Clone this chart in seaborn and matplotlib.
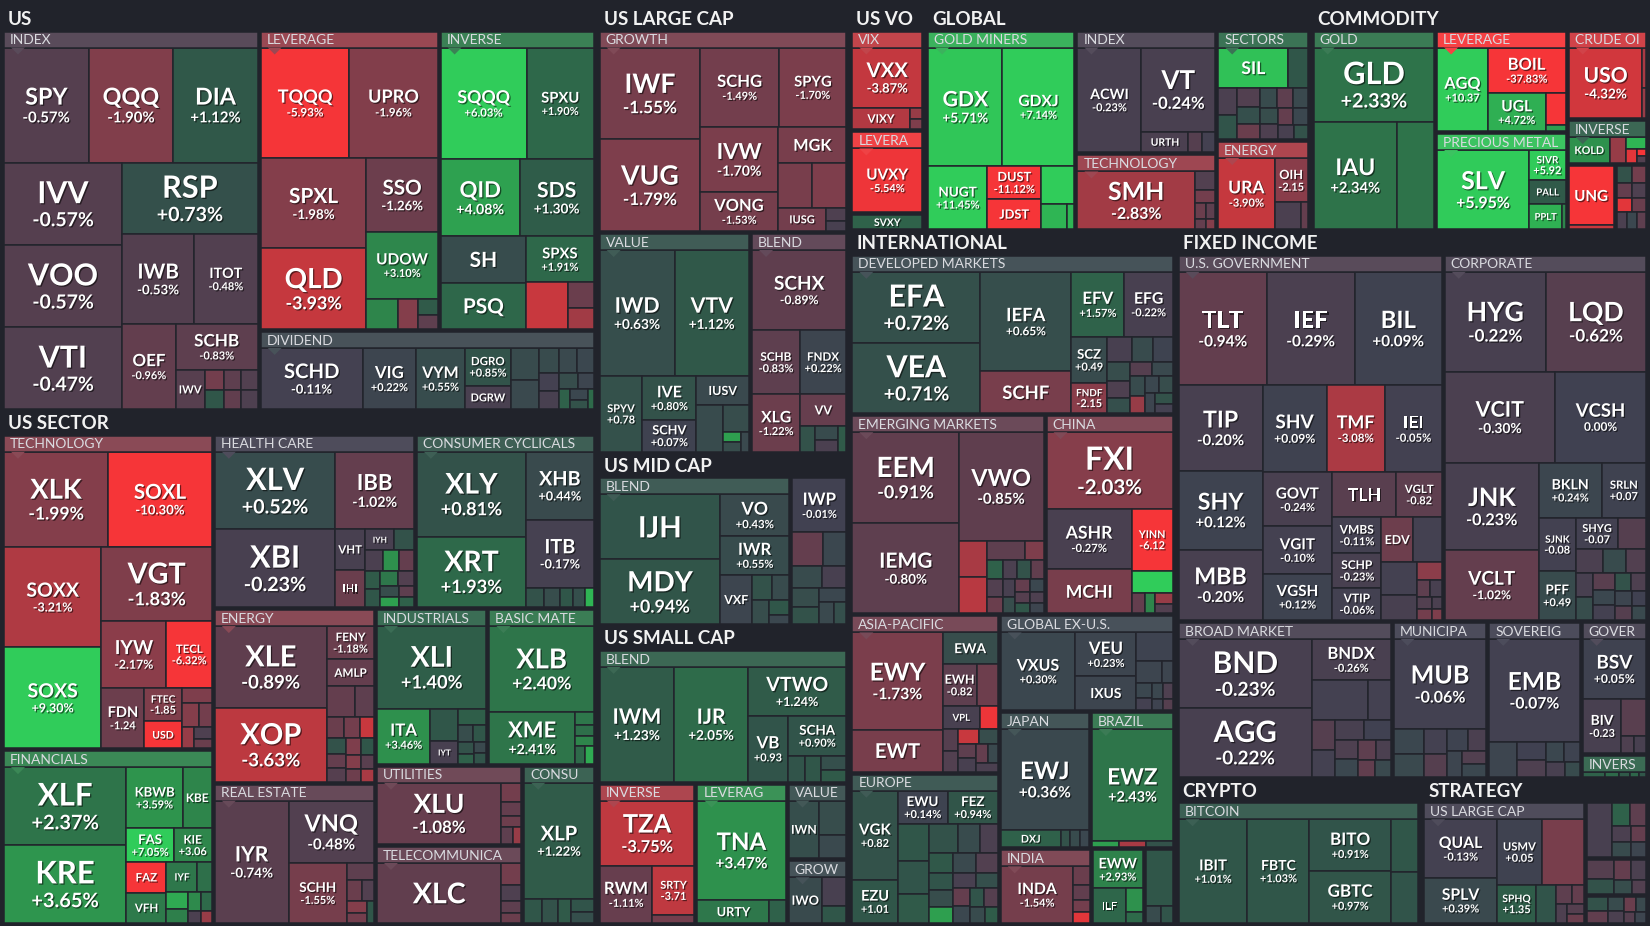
import numpy as np
import matplotlib
matplotlib.use("Agg")
import matplotlib.pyplot as plt
import matplotlib.patheffects as pe
from matplotlib.patches import Rectangle, Polygon
from matplotlib.colors import Normalize, to_rgb
import seaborn as sns

# ---- data: (ticker, size, % change) ; "" = unlabeled small tile ----
US_INDEX = [("SPY", 9360, -0.57), ("QQQ", 9350, -1.90), ("DIA", 9340, 1.12), ("IVV", 9330, -0.57),
            ("VOO", 9320, -0.57), ("VTI", 9310, -0.47), ("RSP", 9300, 0.73), ("IWB", 6200, -0.53),
            ("ITOT", 5500, -0.48), ("OEF", 4400, -0.96), ("SCHB", 3600, -0.83), ("IWV", 1100, -0.62),
            ("", 390, -1.5), ("", 360, 1.0), ("", 340, -0.8), ("", 320, -0.5), ("", 310, -0.9), ("", 300, -0.4)]
US_LEVERAGE = [("TQQQ", 9400, -5.93), ("UPRO", 9350, -1.96), ("SPXL", 9100, -1.98), ("QLD", 8130, -3.93),
               ("SSO", 4970, -1.26), ("UDOW", 4550, 3.10), ("", 900, 3.0), ("", 600, -2.0), ("", 300, 1.2), ("", 260, -0.8)]
US_INVERSE = [("SQQQ", 9140, 6.03), ("SPXU", 7140, 1.90), ("QID", 5760, 4.08), ("SDS", 5400, 1.30),
              ("SH", 3800, 0.55), ("PSQ", 3750, 1.85), ("SPXS", 2970, 1.91), ("", 1850, -4.0),
              ("", 620, -1.2), ("", 520, -2.8)]
US_DIVIDEND = [("SCHD", 7000, -0.11), ("VIG", 3640, 0.22), ("VYM", 3360, 0.55), ("DGRO", 1935, 0.85),
               ("DGRW", 1215, -0.25), ("", 1036, 0.5), ("", 924, 0.4), ("DVY", 527, 0.5), ("", 520, 0.4),
               ("", 450, 0.3), ("", 400, -0.1), ("", 390, -0.2), ("", 350, 0.6), ("", 300, 0.2),
               ("", 260, 1.5), ("", 220, 0.3), ("", 180, 0.8), ("", 120, 2.0)]

SE_TECH = [("XLK", 9400, -1.99), ("SOXL", 9380, -10.30), ("SOXX", 9360, -3.21), ("SOXS", 9340, 9.30),
           ("VGT", 7850, -1.83), ("IYW", 4100, -2.17), ("TECL", 2860, -6.32), ("FDN", 2460, -1.24),
           ("FTEC", 1220, -1.85), ("USD", 960, -7.0), ("", 450, -1.8), ("", 380, -2.0), ("", 300, -1.5),
           ("", 250, -2.5), ("", 200, -0.4), ("", 150, -1.2)]
SE_FIN = [("XLF", 9300, 2.37), ("KRE", 9280, 3.65), ("KBWB", 3360, 3.59), ("KBE", 1740, 3.0),
          ("FAS", 1550, 7.05), ("KIE", 1250, 3.06), ("FAZ", 1200, -7.0), ("VFH", 1190, 2.6),
          ("IYF", 900, 2.5), ("", 420, 2.2), ("", 350, 4.5), ("", 300, 2.8), ("", 250, 3.2),
          ("", 200, 2.0), ("", 150, -0.3), ("", 130, -2.5)]
SE_HEALTH = [("XLV", 9100, 0.52), ("XBI", 9090, -0.23), ("IBB", 5920, -1.02), ("VHT", 1170, -0.2),
             ("IHI", 1080, -1.2), ("IYH", 610, -0.2), ("", 400, 0.8), ("", 350, -0.3), ("", 320, 3.5),
             ("", 300, -1.0), ("", 280, 1.2), ("", 270, 1.0), ("", 250, 2.5), ("", 230, -0.5),
             ("", 200, 0.6), ("", 180, 4.0), ("", 170, -0.8), ("", 150, 1.5)]
SE_CONSCYC = [("XLY", 8960, 0.81), ("XRT", 7450, 1.93), ("XHB", 4450, 0.44), ("ITB", 4440, -0.17),
              ("", 330, 0.8), ("", 300, 0.6), ("", 250, 1.0), ("", 220, 0.7), ("", 170, 5.0)]
SE_ENERGY = [("XLE", 8830, -0.89), ("XOP", 7960, -3.63), ("FENY", 1500, -1.18), ("AMLP", 1220, -1.0),
             ("", 840, -1.0), ("", 560, -0.8), ("", 350, -1.2), ("", 330, -1.5), ("", 300, -4.0),
             ("", 280, 0.8), ("", 260, -1.0), ("", 250, -0.6), ("", 240, -1.8), ("", 220, 1.0),
             ("", 200, -2.0), ("", 190, -1.3), ("", 170, -0.7), ("", 150, -3.0)]
SE_REAL = [("IYR", 8800, -0.74), ("VNQ", 5210, -0.48), ("SCHH", 3420, -1.55), ("", 450, -0.8),
           ("", 300, -1.2), ("", 250, -0.5), ("", 230, -2.0), ("", 200, -1.5), ("", 150, 1.0)]
SE_INDUS = [("XLI", 8580, 1.40), ("ITA", 2800, 3.46), ("", 870, 1.0), ("IYT", 600, -0.2), ("PPA", 430, 1.4),
            ("", 250, 0.6), ("", 220, 1.0), ("", 180, 0.8), ("", 150, 1.5), ("", 130, 0.4), ("", 120, 0.9)]
SE_BASIC = [("XLB", 8470, 2.40), ("XME", 4200, 2.41), ("", 230, 2.5), ("", 200, 2.2), ("", 180, 3.0),
            ("", 170, 2.0), ("", 150, 4.5)]
SE_UTIL = [("XLU", 7950, -1.08), ("", 400, -1.5), ("", 300, -1.0), ("", 250, -1.3), ("", 200, -0.8), ("", 150, -2.5)]
SE_TELECOM = [("XLC", 7850, -0.90), ("", 450, -1.5), ("", 350, -0.4), ("", 250, -0.8), ("", 200, -1.2)]
SE_CONSDEF = [("XLP", 7450, 1.22), ("", 400, 1.0), ("", 350, 0.8), ("", 300, 1.2), ("", 280, 0.9), ("", 230, 0.7)]

LC_GROWTH = [("IWF", 8800, -1.55), ("VUG", 8780, -1.79), ("SCHG", 6000, -1.49), ("SPYG", 5100, -1.70),
             ("IVW", 4800, -1.70), ("VONG", 2925, -1.53), ("MGK", 2310, -1.62), ("", 1470, -1.6),
             ("", 1460, -1.8), ("IUSG", 1060, -1.50), ("", 260, -0.4), ("", 200, -0.2)]
LC_VALUE = [("IWD", 8800, 0.63), ("VTV", 8760, 1.12), ("SPYV", 3000, 0.78), ("IVE", 2180, 0.80),
            ("SCHV", 1610, 0.07), ("IUSV", 1400, 0.42), ("", 1175, 0.5), ("", 650, 0.6), ("", 170, 4.0),
            ("", 160, 0.6), ("", 150, 0.4)]
LC_BLEND = [("SCHX", 6900, -0.89), ("SCHB", 2800, -0.83), ("FNDX", 2730, 0.22), ("XLG", 2520, -1.22),
            ("VV", 1320, -1.05), ("", 350, 0.8), ("", 300, 0.5), ("", 250, -0.3), ("", 200, 1.2)]

MC_BLEND = [("IJH", 7900, 0.92), ("MDY", 7850, 0.94), ("VO", 2900, 0.43), ("IWR", 2700, 0.55),
            ("VXF", 1600, 0.2), ("", 500, 0.8), ("", 450, 0.5), ("", 400, 0.6), ("", 300, 1.0), ("", 200, 0.3)]
MC_OTHER = [("IWP", 2900, -0.01), ("", 1000, -1.0), ("", 780, 0.3), ("", 660, 0.5), ("", 550, -0.2),
            ("", 500, 0.6), ("", 440, 0.8), ("", 390, 0.3), ("", 330, 0.4), ("", 280, 0.7)]

SC_BLEND = [("IWM", 8500, 1.23), ("IJR", 8400, 2.05), ("VTWO", 4800, 1.24), ("VB", 2600, 0.93),
            ("SCHA", 2300, 0.90), ("", 450, 0.9), ("", 400, 1.0), ("", 350, 0.7), ("", 300, 1.2)]
SC_INVERSE = [("TZA", 5790, -3.75), ("RWM", 2840, -1.11), ("SRTY", 1950, -3.71), ("", 310, -1.5)]
SC_LEVERAG = [("TNA", 8200, 3.47), ("URTY", 1520, 2.5), ("", 345, 1.5)]
SC_VALUE = [("IWN", 1700, 0.65), ("", 900, 0.6), ("", 600, 0.4)]
SC_GROW = [("IWO", 1520, 0.45), ("", 700, -0.2), ("", 400, 1.0)]

VOL_VIX = [("VXX", 3700, -3.87), ("VIXY", 1110, -3.3), ("", 120, -2.5), ("", 120, -1.8)]
VOL_LEVERA = [("UVXY", 4020, -5.54)]
VOL_SHORT = [("SVXY", 940, 1.6)]

GL_MINERS = [("GDX", 8570, 5.71), ("GDXJ", 8330, 7.14), ("NUGT", 3640, 11.45), ("DUST", 1720, -11.12),
             ("JDST", 1610, -14.0), ("", 1220, 6.0), ("", 650, 5.0), ("", 180, 5.0)]
GL_INDEX = [("ACWI", 6720, -0.23), ("VT", 6230, -0.24), ("URTH", 990, -0.30), ("", 290, -0.6), ("", 270, -0.1)]
GL_TECH = [("SMH", 7320, -2.83), ("", 400, -0.5), ("", 300, -1.5), ("", 200, -1.2), ("", 150, -0.8),
           ("", 120, -1.0), ("", 100, -2.0)]
GL_SECTORS = [("SIL", 2790, 5.5), ("", 780, 1.0), ("", 520, -0.3), ("", 450, 0.9), ("", 420, -0.5),
              ("", 380, 0.7), ("", 350, -1.2), ("", 330, 0.5), ("", 300, -0.8), ("", 290, 0.4),
              ("", 280, 0.6), ("", 270, -0.4), ("", 260, -1.0), ("", 240, 0.3), ("", 220, -0.2), ("", 200, 0.8)]
GL_ENERGY = [("URA", 4050, -3.90), ("OIH", 1490, -2.15), ("", 730, -0.3), ("", 170, -1.0)]

CM_GOLD = [("GLD", 8600, 2.33), ("IAU", 8580, 2.34), ("", 3850, 2.3)]
CM_LEVERAGE = [("AGQ", 4280, 10.37), ("BOIL", 3600, -37.83), ("UGL", 2240, 4.72), ("", 650, -30.0), ("", 130, 4.0)]
CM_PRECIOUS = [("SLV", 7430, 5.95), ("SIVR", 1130, 5.92), ("PALL", 880, 1.2), ("PPLT", 860, 4.8), ("", 100, 3.0)]
CM_CRUDE = [("USO", 5150, -4.32), ("", 150, -3.0), ("", 110, -2.5)]
CM_INVERSE = [("KOLD", 1300, 3.5), ("", 500, -2.5), ("", 300, 5.0), ("", 190, -5.0), ("", 80, -6.0), ("", 80, -0.5)]
CM_NATGAS = [("UNG", 2580, -6.5), ("", 200, -4.0)]
CM_OTHER = [("", 260, 0.8), ("", 240, -1.5), ("", 220, -1.0), ("", 210, -0.4), ("", 200, -5.0),
            ("", 190, -1.2), ("", 180, -0.3), ("", 170, 0.3), ("", 160, -0.8)]

IN_DEVELOPED = [("EFA", 8900, 0.72), ("VEA", 8880, 0.71), ("IEFA", 8860, 0.65), ("SCHF", 3730, -1.6),
                ("EFV", 3400, 1.57), ("EFG", 3070, -0.22), ("SCZ", 1630, 0.49), ("FNDF", 1070, -2.15),
                ("", 600, -0.2), ("", 520, 0.5), ("", 480, 0.1), ("", 420, 0.6), ("", 380, -0.4),
                ("", 350, 0.7), ("", 320, -0.6), ("", 300, 0.4), ("", 280, 0.5), ("", 260, -2.5),
                ("", 240, 0.3), ("", 220, 0.6), ("", 200, 0.2), ("", 180, 0.8), ("", 160, -0.1)]
IN_EMERGING = [("EEM", 9150, -0.91), ("IEMG", 9130, -0.80), ("VWO", 8690, -0.85), ("", 970, -3.0),
               ("", 950, -3.5), ("", 700, -0.8), ("", 350, -1.8), ("", 300, 1.5), ("", 280, -0.5),
               ("", 260, -1.2), ("", 250, -0.3), ("", 240, 0.8), ("", 220, -0.9), ("", 200, -0.2),
               ("", 190, 0.6), ("", 180, -1.0), ("", 170, 0.3), ("", 160, -0.6), ("", 150, 1.0),
               ("", 140, -0.4), ("", 130, 0.2)]
IN_CHINA = [("FXI", 8950, -2.03), ("ASHR", 4810, -0.27), ("MCHI", 3490, -1.6), ("YINN", 2380, -6.12),
            ("", 840, 6.0), ("", 250, -1.0), ("", 200, 3.0), ("", 180, -2.5), ("", 150, -0.5)]
IN_ASIA = [("EWY", 8300, -1.73), ("EWT", 3600, -1.6), ("EWA", 1650, 0.6), ("EWH", 1360, -0.82),
           ("", 840, -1.3), ("VPL", 800, -0.2), ("", 380, -5.5), ("", 330, -0.6), ("", 310, -0.5),
           ("", 290, -4.0), ("", 270, 0.6), ("", 250, -0.8), ("", 230, -0.2), ("", 210, -1.0),
           ("", 190, 0.4), ("", 170, -0.3)]
IN_EUROPE = [("VGK", 3830, 0.82), ("EZU", 1850, 1.01), ("EWU", 1580, 0.14), ("FEZ", 1570, 0.94),
             ("", 1100, 1.0), ("", 1000, 0.9), ("", 850, 1.2), ("", 830, 0.8), ("", 600, 0.5),
             ("", 500, -0.3), ("", 450, 1.1), ("", 420, 0.4), ("", 400, -0.5), ("", 400, 0.9),
             ("", 380, 0.6), ("", 360, 4.0), ("", 340, -0.2), ("", 320, 0.7), ("", 300, -1.0),
             ("", 280, 0.3), ("", 260, 0.9), ("", 240, -0.6), ("", 220, 0.5), ("", 200, 1.3)]
IN_GLOBALEX = [("VXUS", 5840, 0.30), ("VEU", 2680, 0.23), ("IXUS", 2070, 0.2), ("", 1030, 0.1),
               ("VSS", 570, 0.2), ("", 250, 0.2), ("", 240, 0.3), ("", 200, -0.1), ("", 180, 0.3),
               ("", 150, -0.4), ("", 120, 0.1), ("", 100, -0.6)]
IN_JAPAN = [("EWJ", 8280, 0.36), ("DXJ", 960, 1.5), ("", 150, 0.8), ("", 150, 0.5), ("", 150, 0.3)]
IN_BRAZIL = [("EWZ", 8340, 2.43), ("", 160, 4.0), ("", 160, -3.0), ("", 160, 0.8)]
IN_INDIA = [("INDA", 4100, -1.54), ("", 300, -1.2), ("", 250, -0.9), ("", 200, -1.5), ("", 180, -5.0)]
IN_LATAM = [("EWW", 1790, 2.93), ("ILF", 1090, 1.8), ("", 390, 3.5), ("", 170, 2.0)]
IN_OTHER = [("", 1430, 1.0), ("", 250, 0.5), ("", 200, 0.9)]

FI_GOV = [("TLT", 9500, -0.94), ("IEF", 9450, -0.29), ("BIL", 9400, 0.09), ("TIP", 6800, -0.20),
          ("SHY", 6300, 0.12), ("MBB", 5600, -0.20), ("SHV", 5270, 0.09), ("TMF", 4800, -3.08),
          ("IEI", 4700, -0.05), ("GOVT", 3600, -0.24), ("VGIT", 3130, -0.10), ("VGSH", 3060, 0.12),
          ("TLH", 2730, -0.7), ("VGLT", 1930, -0.82), ("VMBS", 1690, -0.11), ("SCHP", 1600, -0.23),
          ("VTIP", 1500, -0.06), ("EDV", 1360, -1.3), ("", 1230, -0.1), ("", 1120, -0.1), ("", 850, -0.2),
          ("", 420, -2.2), ("", 200, -0.8), ("", 180, -0.2), ("", 160, -0.5), ("", 150, -1.5),
          ("", 120, -0.3), ("", 100, -1.8)]
FI_CORP = [("HYG", 9500, -0.22), ("LQD", 9450, -0.62), ("VCIT", 9440, -0.30), ("VCSH", 7800, 0.00),
           ("JNK", 7780, -0.23), ("VCLT", 6160, -1.02), ("BKLN", 3290, 0.24), ("SRLN", 2330, 0.07),
           ("SJNK", 1840, -0.08), ("PFF", 1700, 0.49), ("SHYG", 1260, -0.07), ("", 810, -0.6),
           ("", 600, -0.3), ("", 500, 0.5), ("", 450, -0.5), ("", 400, -0.2), ("", 380, 0.6),
           ("", 350, -0.7), ("", 320, 0.3), ("", 300, -0.1), ("", 280, 0.8), ("", 260, -0.4),
           ("", 240, 0.2), ("", 220, -0.6), ("", 200, 0.0), ("", 180, 0.4)]
FI_BROAD = [("BND", 9050, -0.23), ("AGG", 8900, -0.22), ("BNDX", 3150, -0.26), ("", 2210, -0.1),
            ("", 900, -0.1), ("", 650, -0.6), ("", 600, -0.1), ("", 550, -0.2), ("", 500, 0.0),
            ("", 450, -0.4), ("", 400, 0.3), ("", 350, -0.8), ("", 300, -0.3), ("", 280, -0.9), ("", 250, 0.4)]
FI_MUNI = [("MUB", 7830, -0.06), ("", 700, 0.3), ("", 650, 0.4), ("", 550, -0.1), ("", 500, -0.6),
           ("", 420, 0.1), ("", 380, -0.3), ("", 350, 0.2), ("", 300, -0.5), ("", 280, 0.3)]
FI_SOV = [("EMB", 8700, -0.07), ("", 900, 0.2), ("", 500, 0.0), ("", 450, -0.4), ("", 350, 0.3),
          ("", 300, 0.1), ("", 250, -0.2), ("", 200, 0.5)]
FI_GOVER = [("BSV", 3510, 0.05), ("BIV", 1910, -0.23), ("", 830, -0.7), ("", 200, -0.4), ("", 190, -0.2)]
FI_INVERS = [("", 300, 1.5), ("", 200, 2.0), ("", 150, 1.2), ("", 120, 1.8), ("", 100, 1.0)]

CR_BITCOIN = [("IBIT", 7520, 1.01), ("FBTC", 6760, 1.03), ("BITO", 4460, 0.91), ("GBTC", 4440, 0.97),
              ("", 1500, 1.0), ("", 1470, 0.9)]

ST_LARGE = [("QUAL", 4390, -0.13), ("SPLV", 3380, 0.39), ("USMV", 2990, 0.05), ("", 2850, -1.6),
            ("SPHQ", 1520, 1.35), ("", 800, 0.9), ("", 300, -0.8), ("", 250, -1.0), ("", 200, -0.4),
            ("", 180, -0.6), ("", 150, -1.2)]
ST_S2 = [("", 1360, -0.2), ("", 400, 1.5), ("", 350, -0.8), ("", 300, -0.3), ("", 280, 0.5), ("", 250, -1.0), ("", 220, 0.2)]
ST_S3 = [("", 500, -0.6), ("", 400, 0.8), ("", 350, -1.0), ("", 300, -0.3), ("", 250, 0.6), ("", 200, -0.5)]
ST_S4 = [("", 300, 0.8), ("", 250, -0.9), ("", 220, 0.5), ("", 200, -0.3), ("", 180, -1.2), ("", 150, 0.4),
         ("", 130, -0.6), ("", 120, 0.2)]

# tickers printed without their change
NO_PCT = {"IWV", "MGK", "IUSG", "VV", "SH", "PSQ", "DVY", "DGRW", "IJH", "VXF", "URTY", "IWN", "IWO",
          "SVXY", "VIXY", "URTH", "SIL", "SCHF", "MCHI", "EWT", "EWA", "VPL", "IXUS", "VSS", "DXJ", "ILF",
          "TLH", "EDV", "XLC", "KBE", "IYF", "VFH", "USD", "FAZ", "AMLP", "IYT", "PPA", "VHT", "IHI",
          "IYH", "PALL", "PPLT", "KOLD", "UNG", "JDST", "IUSV"}

GROUPS = [
    ("US", [("INDEX", US_INDEX), ("LEVERAGE", US_LEVERAGE), ("INVERSE", US_INVERSE), ("DIVIDEND", US_DIVIDEND)]),
    ("US SECTOR", [("TECHNOLOGY", SE_TECH), ("FINANCIALS", SE_FIN), ("HEALTH CARE", SE_HEALTH),
                   ("CONSUMER CYCLICALS", SE_CONSCYC), ("ENERGY", SE_ENERGY), ("REAL ESTATE", SE_REAL),
                   ("INDUSTRIALS", SE_INDUS), ("BASIC MATE", SE_BASIC), ("UTILITIES", SE_UTIL),
                   ("TELECOMMUNICA", SE_TELECOM), ("CONSU", SE_CONSDEF)]),
    ("US LARGE CAP", [("GROWTH", LC_GROWTH), ("VALUE", LC_VALUE), ("BLEND", LC_BLEND)]),
    ("US MID CAP", [("BLEND", MC_BLEND), ("", MC_OTHER)]),
    ("US SMALL CAP", [("BLEND", SC_BLEND), ("INVERSE", SC_INVERSE), ("LEVERAG", SC_LEVERAG),
                      ("VALUE", SC_VALUE), ("GROW", SC_GROW)]),
    ("US VO", [("VIX", VOL_VIX), ("LEVERA", VOL_LEVERA), ("", VOL_SHORT)]),
    ("GLOBAL", [("GOLD MINERS", GL_MINERS), ("INDEX", GL_INDEX), ("TECHNOLOGY", GL_TECH),
                ("SECTORS", GL_SECTORS), ("ENERGY", GL_ENERGY)]),
    ("COMMODITY", [("GOLD", CM_GOLD), ("LEVERAGE", CM_LEVERAGE), ("PRECIOUS METAL", CM_PRECIOUS),
                   ("CRUDE OI", CM_CRUDE), ("INVERSE", CM_INVERSE), ("", CM_NATGAS), ("", CM_OTHER)]),
    ("INTERNATIONAL", [("DEVELOPED MARKETS", IN_DEVELOPED), ("EMERGING MARKETS", IN_EMERGING),
                       ("CHINA", IN_CHINA), ("ASIA-PACIFIC", IN_ASIA), ("EUROPE", IN_EUROPE),
                       ("GLOBAL EX-U.S.", IN_GLOBALEX), ("JAPAN", IN_JAPAN), ("BRAZIL", IN_BRAZIL),
                       ("INDIA", IN_INDIA), ("", IN_LATAM), ("", IN_OTHER)]),
    ("FIXED INCOME", [("U.S. GOVERNMENT", FI_GOV), ("CORPORATE", FI_CORP), ("BROAD MARKET", FI_BROAD),
                      ("MUNICIPA", FI_MUNI), ("SOVEREIG", FI_SOV), ("GOVER", FI_GOVER), ("INVERS", FI_INVERS)]),
    ("CRYPTO", [("BITCOIN", CR_BITCOIN)]),
    ("STRATEGY", [("US LARGE CAP", ST_LARGE), ("", ST_S2), ("", ST_S3), ("", ST_S4)]),
]

BG = "#21232b"
EDGE = "#22242c"
STOPS = ["#f63538", "#e2363a", "#c7383e", "#a83a44", "#843e4b", "#643e4e", "#404151",
         "#305649", "#2e6a4a", "#2e844b", "#2e9e4f", "#2fb554", "#30cc5a"]
SUB_HDR, GRP_HDR, PAD = 16, 22, 1.5

sns.set_theme(style="dark", rc={"figure.facecolor": BG, "axes.facecolor": BG})
plt.rcParams['font.family'] = ['Lato', 'DejaVu Sans']
cmap = sns.blend_palette(STOPS, n_colors=256, as_cmap=True)
norm = Normalize(-6, 6, clip=True)
SHADOW = [pe.SimplePatchShadow(offset=(0.9, -0.9), shadow_rgbFace="black", alpha=0.55), pe.Normal()]


def worst(row, side):
    s = sum(row)
    return max(max(side * side * v / (s * s), s * s / (side * side * v)) for v in row)


def squarify(vals, x, y, w, h):
    tot = sum(vals)
    vals = [v * w * h / tot for v in vals]
    out = []
    i = 0
    while i < len(vals):
        side = min(w, h)
        row = [vals[i]]
        j = i + 1
        while j < len(vals) and worst(row + [vals[j]], side) <= worst(row, side):
            row.append(vals[j])
            j += 1
        s = sum(row)
        if w >= h:
            cw = s / h if h > 0 else 0
            yy = y
            for v in row:
                rh = v / cw if cw > 0 else 0
                out.append((x, yy, cw, rh))
                yy += rh
            x += cw
            w -= cw
        else:
            rh = s / w if w > 0 else 0
            xx = x
            for v in row:
                rw = v / rh if rh > 0 else 0
                out.append((xx, y, rw, rh))
                xx += rw
            y += rh
            h -= rh
        i = j
    return out


def sub_weight(name, tiles):
    s = sum(t[1] for t in tiles)
    return s + ((SUB_HDR if name else 0) + 6) * np.sqrt(s)


def grp_weight(subs):
    s = sum(sub_weight(n, t) for n, t in subs)
    return s + (GRP_HDR + 6) * np.sqrt(s)


fig = plt.figure(figsize=(16.5, 9.26), dpi=100)
ax = fig.add_axes([0, 0, 1, 1])
ax.set_xlim(0, 1650)
ax.set_ylim(926, 0)
ax.axis("off")
renderer = fig.canvas.get_renderer()


def fit_text(t, avail):
    s = t.get_text()
    while s and t.get_window_extent(renderer).width > avail:
        s = s[:-1].rstrip()
        t.set_text(s)


def tile_label(x, y, w, h, name, chg):
    if not name:
        return
    n = len(name)
    em_w = min(0.4 * w + 11, w - 4) / (0.64 * n)
    em_a = 0.33 * np.sqrt(w * h)
    pct = None
    em = ep = 0
    if name not in NO_PCT:
        em = min(em_w, 0.43 * h, em_a, 38)
        ep = max(em * 0.64, 11)
        pct = "0.00%" if chg == 0 else f"{chg:+.2f}%"
        if 0.49 * ep * len(pct) > w - 13:
            pct = pct[:-1]
        ep = min(ep, (w - 6) / (0.49 * len(pct)))
        need = 0.72 * em + 0.3 * em + 0.72 * ep
        if need > h - 6:
            f = (h - 6) / need
            em *= f
            ep *= f
        if em < 9 or ep < 7:
            pct = None
    cx = x + w / 2
    kw = dict(ha="center", va="baseline", color="white", fontweight="bold", zorder=5, path_effects=SHADOW)
    if pct is None:
        em = min(em_w, max(0.56 * h, min(0.8 * h, 12)), em_a, 42)
        if em < 8:
            return
        ax.text(cx, y + h / 2 + 0.36 * em, name, fontsize=em * 0.72, **kw)
    else:
        ct, cp, gap = 0.72 * em, 0.72 * ep, 0.3 * em
        top = y + h / 2 - (ct + gap + cp) / 2
        ax.text(cx, top + ct, name, fontsize=em * 0.72, **kw)
        ax.text(cx, top + ct + gap + cp, pct, fontsize=ep * 0.72, **kw)


def lighten(c, a=0.06):
    r, g, b = to_rgb(c)
    return (r + (1 - r) * a, g + (1 - g) * a, b + (1 - b) * a)


grects = squarify([grp_weight(s) for _, s in GROUPS], 1, 8, 1648, 918)
for (gname, subs), (gx, gy, gw, gh) in zip(GROUPS, grects):
    t = ax.text(gx + 7, gy + 17, gname, fontsize=13.5, fontweight="bold", color="#f2f2f2",
                va="baseline", ha="left", zorder=6)
    fit_text(t, gw - 10)
    subs = sorted(subs, key=lambda s: -sub_weight(*s))
    srects = squarify([sub_weight(n, tl) for n, tl in subs],
                      gx + PAD, gy + GRP_HDR, gw - 2 * PAD, gh - GRP_HDR - PAD)
    for (sname, tiles), (sx, sy, sw, sh) in zip(subs, srects):
        sx, sy, sw, sh = sx + PAD, sy + PAD, sw - 2 * PAD, sh - 2 * PAD
        tiles = sorted(tiles, key=lambda tl: -tl[1])
        ty, th = sy, sh
        if sname:
            ty, th = sy + SUB_HDR, sh - SUB_HDR
        trects = squarify([tl[1] for tl in tiles], sx, ty, sw, th)
        for (tk, sz, ch), (x, y, w, h) in zip(tiles, trects):
            ax.add_patch(Rectangle((x, y), w, h, facecolor=cmap(norm(ch)), edgecolor=EDGE,
                                   linewidth=1.1, zorder=1))
            tile_label(x, y, w, h, tk, ch)
        if sname:
            avg = sum(tl[1] * tl[2] for tl in tiles) / sum(tl[1] for tl in tiles)
            hc = lighten(cmap(norm(avg)))
            ax.add_patch(Rectangle((sx, sy), sw, SUB_HDR, facecolor=hc, edgecolor=EDGE,
                                   linewidth=1.1, zorder=2))
            if sw > 40 and th > 10:
                ax.add_patch(Polygon([(sx + 7, sy + SUB_HDR), (sx + 21, sy + SUB_HDR),
                                      (sx + 14, sy + SUB_HDR + 7)], closed=True,
                                     facecolor=hc, edgecolor="none", zorder=3))
            st = ax.text(sx + 6, sy + 12.7, sname, fontsize=10, color="#dadbe0",
                         va="baseline", ha="left", zorder=6)
            fit_text(st, sw - 9)

fig.savefig("out.png", dpi=100, facecolor=BG)
